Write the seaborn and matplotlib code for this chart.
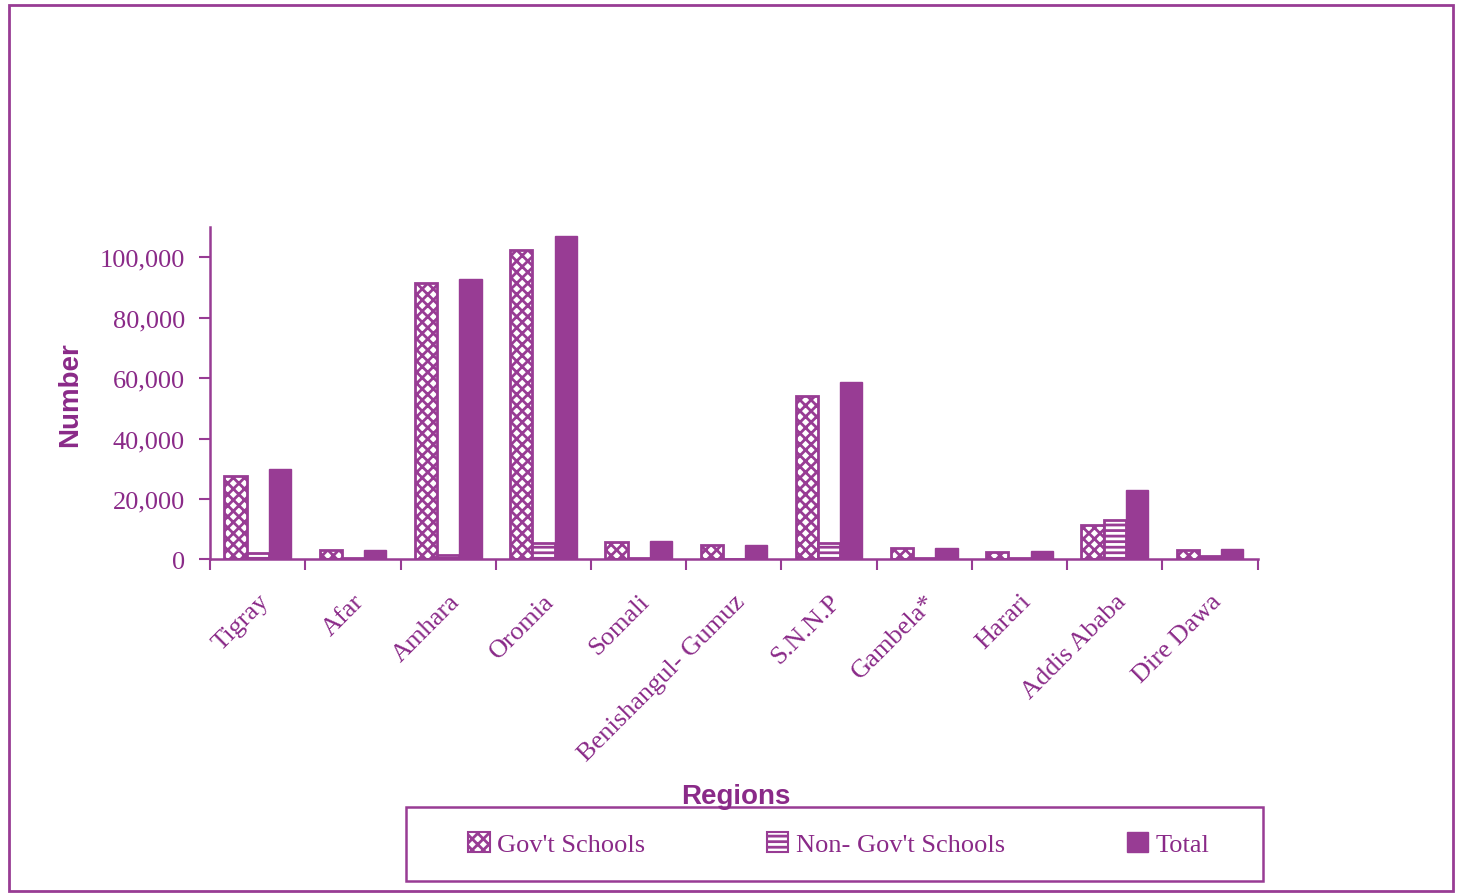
import pandas as pd
import numpy as np
import matplotlib.pyplot as plt
import seaborn as sns
from matplotlib.patches import Patch, Rectangle
from matplotlib.ticker import FuncFormatter

regions = ['Tigray', 'Afar', 'Amhara', 'Oromia', 'Somali', 'Benishangul- Gumuz',
           'S.N.N.P', 'Gambela*', 'Harari', 'Addis Ababa', 'Dire Dawa']
gov = [27500, 3000, 91400, 102300, 5600, 4600, 54000, 3600, 2500, 11500, 3000]
non_gov = [2000, 300, 1500, 5500, 300, 200, 5500, 300, 300, 13000, 1000]
total = [29800, 3200, 92700, 107000, 6000, 4800, 58600, 3800, 2800, 23000, 3500]
series = ["Gov't Schools", "Non- Gov't Schools", 'Total']

purple = '#983c94'
text_purple = '#8a2a88'

df = pd.DataFrame({'Region': regions * 3,
                   'Series': sum([[s] * len(regions) for s in series], []),
                   'Number': gov + non_gov + total})

sns.set_style('white')
plt.rcParams['font.family'] = ['Liberation Serif', 'DejaVu Serif']
plt.rcParams['hatch.color'] = purple
plt.rcParams['hatch.linewidth'] = 2.0

fig = plt.figure(figsize=(14.59, 8.95), dpi=100)
ax = fig.add_axes([0.144, 0.374, 0.718, 0.371])

sns.barplot(data=df, x='Region', y='Number', hue='Series', hue_order=series,
            order=regions, width=0.7, gap=0, ax=ax, legend=False, saturation=1)

hatches = ['xxx', '---', None]
for cont, h in zip(ax.containers, hatches):
    for bar in cont:
        if h is None:
            bar.set_facecolor(purple)
            bar.set_edgecolor(purple)
        else:
            bar.set_facecolor('white')
            bar.set_edgecolor(purple)
            bar.set_hatch(h)
            bar.set_linewidth(2)

ax.set_xlim(-0.5, len(regions) - 0.5)
ax.set_ylim(0, 110000)
ax.set_yticks([0, 20000, 40000, 60000, 80000, 100000])
ax.yaxis.set_major_formatter(FuncFormatter(lambda v, p: f'{int(v):,}'))
ax.set_xticks(np.arange(len(regions)))
ax.set_xticklabels(regions, rotation=45, ha='right', rotation_mode='anchor')
ax.set_xticks(np.arange(-0.5, len(regions)), minor=True)
ax.tick_params(axis='x', which='major', length=0, pad=22, labelsize=19, labelcolor=text_purple)
ax.tick_params(axis='x', which='minor', length=8, width=1.5, color=purple, direction='out', bottom=True)
ax.tick_params(axis='y', length=8, width=1.5, color=purple, direction='out', left=True,
               labelsize=19, labelcolor=text_purple, pad=10)

for s in ['top', 'right']:
    ax.spines[s].set_visible(False)
for s in ['left', 'bottom']:
    ax.spines[s].set_color(purple)
    ax.spines[s].set_linewidth(1.8)

ax.set_xlabel('')
ax.set_ylabel('Number', family=['Liberation Sans', 'DejaVu Sans'], fontweight='bold',
              fontsize=20, color=text_purple, labelpad=12)
fig.text(0.504, 0.11, 'Regions', family=['Liberation Sans', 'DejaVu Sans'], fontweight='bold',
         fontsize=20, color=text_purple, ha='center', va='center')

# legend box drawn separately so entries can sit with uneven side padding
fig.patches.append(Rectangle((0.278, 0.0145), 0.588, 0.083, transform=fig.transFigure,
                             fill=False, edgecolor=purple, linewidth=1.8))
handles = [Patch(facecolor='white', edgecolor=purple, hatch='xxx', linewidth=1.5),
           Patch(facecolor='white', edgecolor=purple, hatch='---', linewidth=1.5),
           Patch(facecolor=purple, edgecolor=purple)]
leg = fig.legend(handles, series, loc='center', ncol=3, bbox_to_anchor=(0.575, 0.056),
                 frameon=False, fontsize=19, handlelength=0.8, handleheight=0.8,
                 handletextpad=0.3, columnspacing=4.6, labelcolor=text_purple)

fig.patches.append(Rectangle((0.006, 0.003), 0.99, 0.99, transform=fig.transFigure,
                             fill=False, edgecolor=purple, linewidth=2))

fig.savefig('out.png', dpi=100)
